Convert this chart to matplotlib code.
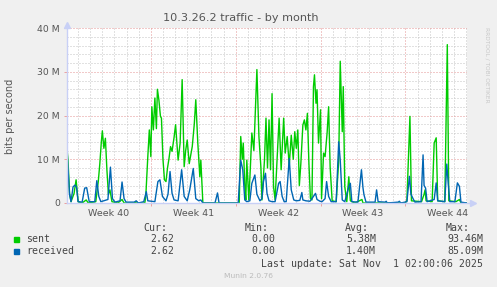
import matplotlib
matplotlib.use("Agg")
import matplotlib.pyplot as plt
from matplotlib.patches import Rectangle

# hours since Mon 29 Sep 2025 00:00, values in Mbit/s
sent_hours = [2, 4, 7, 10, 16, 20, 24, 32, 40, 44, 59, 64, 67, 70, 72, 75, 78, 81, 84, 87,
              91, 103, 111, 115, 135, 139, 143, 156, 158, 162, 165, 168, 170, 173, 176, 179,
              181, 184, 187, 189, 192, 195, 198, 201, 204, 207, 210, 214, 217, 222, 226, 230,
              234, 237, 240, 244, 250, 254, 257, 261, 265, 267, 271, 343, 346, 349, 351, 354,
              356, 358, 362, 365, 368, 372, 378, 382, 386, 388, 393, 396, 399, 402, 405, 408,
              411, 414, 418, 422, 426, 431, 434, 438, 442, 446, 450, 453, 456, 459, 462, 465,
              469, 472, 475, 478, 481, 484, 487, 490, 492, 495, 497, 500, 504, 506, 510, 513,
              517, 520, 523, 527, 535, 540, 543, 547, 549, 552, 556, 560, 563, 572, 586, 588,
              671, 675, 681, 684, 704, 709, 711, 713, 725, 729, 733, 736, 750, 755, 758, 772,
              779, 782, 794]
sent = [12.5, 9.8, 2.2, 0.3, 2.2, 5.3, 0.3, 0, 0.7, 0, 0.3, 5.0, 9.0, 14.0, 16.5, 12.5, 14.8,
        7.6, 2.0, 3.0, 0.3, 0, 0.8, 0, 0, 0.3, 0, 0, 1.5, 10.6, 16.7, 10.6, 22.0, 16.7, 24.0,
        17.0, 26.0, 23.5, 19.8, 19.4, 10.0, 5.3, 4.9, 8.0, 10.2, 12.9, 11.8, 15.0, 17.9, 9.8,
        13.7, 28.2, 8.3, 12.0, 14.4, 9.0, 12.9, 18.0, 23.6, 13.7, 6.0, 9.8, 0, 0, 15.2, 10.0,
        13.7, 4.0, 0.7, 9.8, 0.7, 8.0, 16.0, 12.0, 30.5, 15.2, 8.0, 0.7, 9.8, 19.4, 8.0, 19.0,
        7.6, 25.0, 3.7, 0.7, 9.8, 19.4, 7.6, 19.4, 11.4, 15.2, 8.5, 15.5, 10.0, 16.3, 12.5,
        16.7, 4.0, 9.0, 17.8, 19.0, 16.7, 20.5, 9.0, 1.0, 0.7, 26.6, 29.3, 22.8, 25.9, 13.7,
        21.3, 1.0, 11.4, 10.6, 16.0, 22.0, 8.3, 0.5, 0.3, 9.8, 32.4, 16.3, 26.6, 3.7, 0.3, 6.0,
        0.5, 0, 0.8, 0, 0, 0.5, 19.8, 0.5, 0.3, 2.0, 3.0, 0.5, 0.3, 13.7, 14.9, 0.5, 0.3, 36.2,
        0.5, 0.3, 0.8, 0, 0]

recv_hours = [2, 4, 7, 10, 14, 18, 21, 24, 32, 37, 41, 46, 57, 61, 65, 69, 83, 88, 92, 97,
              107, 111, 115, 119, 135, 139, 143, 154, 159, 162, 176, 182, 186, 191, 198, 202,
              206, 210, 214, 222, 229, 234, 240, 245, 252, 257, 263, 267, 271, 295, 300, 303,
              341, 346, 350, 354, 358, 364, 368, 374, 378, 384, 388, 391, 395, 398, 402, 408,
              414, 421, 424, 428, 432, 436, 442, 446, 451, 456, 463, 467, 469, 475, 483, 487,
              494, 497, 503, 507, 513, 516, 520, 525, 535, 540, 543, 547, 552, 560, 563, 566,
              578, 585, 588, 590, 594, 612, 615, 618, 632, 634, 636, 658, 660, 663, 675, 680,
              683, 688, 691, 703, 707, 709, 712, 715, 729, 733, 736, 750, 754, 757, 760, 770,
              775, 779, 782, 794]
received = [12.5, 8.0, 2.0, 0.3, 3.7, 4.1, 3.5, 0.3, 0.2, 3.4, 3.5, 0.3, 0.3, 5.1, 1.5, 0.3,
            0.8, 8.2, 1.0, 0.2, 0.5, 4.8, 1.0, 0.2, 0.2, 0.5, 0, 0.3, 2.6, 0.5, 0.3, 4.9, 5.3,
            1.5, 0.5, 2.0, 7.2, 2.2, 0.7, 0.5, 7.6, 1.5, 0.5, 3.0, 7.9, 1.0, 0.5, 0.7, 0, 0,
            2.3, 0, 0, 9.8, 7.6, 0.7, 0.3, 0.5, 4.5, 6.4, 2.0, 0.5, 1.0, 4.9, 6.8, 2.2, 0.5,
            0.3, 0.3, 4.5, 4.9, 1.5, 0.3, 0.3, 10.2, 3.0, 0.7, 0.5, 0.6, 2.4, 0.7, 0.5, 0.4,
            1.0, 2.2, 0.8, 0.4, 0.3, 1.0, 4.9, 1.5, 0.3, 0.3, 14.0, 9.8, 0.7, 0.3, 3.7, 4.5,
            0.3, 0.2, 7.6, 3.5, 1.9, 0.2, 0.2, 3.0, 0.3, 0.2, 0.4, 0, 0.2, 0.4, 0, 0.3, 6.1,
            2.0, 0.8, 0.2, 0.3, 11.0, 4.0, 3.4, 0.3, 0.8, 4.6, 0.5, 0.3, 8.9, 4.2, 0.3, 0.3,
            4.6, 3.8, 0.2, 0]

week_labels = ["Week 40", "Week 41", "Week 42", "Week 43", "Week 44"]
y_ticks = [0, 10, 20, 30, 40]
y_labels = ["0", "10 M", "20 M", "30 M", "40 M"]

legend_names = ["sent", "received"]
legend_colors = ["#00cc00", "#0066b3"]
cur_vals = ["2.62", "2.62"]
min_vals = ["0.00", "0.00"]
avg_vals = ["5.38M", "1.40M"]
max_vals = ["93.46M", "85.09M"]

W, H = 497, 287
TXT = "#555555"
MONO = "DejaVu Sans Mono"

fig = plt.figure(figsize=(W / 100, H / 100), dpi=100, facecolor="#f0f0f0")
ax = fig.add_axes([67 / W, 84 / H, 400 / W, 175 / H])
ax.set_facecolor("white")
x0, x1 = 2, 2 + 33 * 24
ax.set_xlim(x0, x1)
ax.set_ylim(0, 40)

# grid: daily / 2M grey dots, weekly / 10M red dots
for d in range(1, 34):
    h = d * 24
    if h >= x1:
        break
    col = "#e49494" if h % 168 == 0 else "#c4c4c4"
    ax.axvline(h, color=col, lw=0.72, ls=(0, (1, 2)), zorder=1)
for v in range(2, 41, 2):
    col = "#e49494" if v % 10 == 0 else "#c4c4c4"
    ax.axhline(v, color=col, lw=0.72, ls=(0, (1, 2)), zorder=1)

ax.plot(sent_hours, sent, color=legend_colors[0], lw=1.0, zorder=3)
ax.plot(recv_hours, received, color=legend_colors[1], lw=1.0, zorder=4)

for s in ax.spines.values():
    s.set_visible(False)

# axis lines with arrow heads
axis_col = "#c8d0f6"
ax.plot([0, 1.015], [0, 0], transform=ax.transAxes, color=axis_col, lw=1, clip_on=False, zorder=5)
ax.plot([1.015], [0], transform=ax.transAxes, marker=">", ms=4, color=axis_col, clip_on=False, zorder=5)
ax.plot([0, 0], [0, 1.02], transform=ax.transAxes, color=axis_col, lw=1, clip_on=False, zorder=5)
ax.plot([0], [1.02], transform=ax.transAxes, marker="^", ms=4, color=axis_col, clip_on=False, zorder=5)

ax.set_xticks([84 + 168 * i for i in range(len(week_labels))], week_labels)
ax.set_xticks([168 * i for i in range(1, 5)], minor=True)
ax.tick_params(axis="x", which="major", length=0, pad=4, labelsize=6.8, labelcolor=TXT)
ax.tick_params(axis="x", which="minor", length=2, color="#eba0a0", width=0.7)
ax.set_yticks(y_ticks, y_labels)
ax.tick_params(axis="y", length=2, width=0.7, color="#eba0a0", pad=3, labelsize=6.7, labelcolor=TXT)

fig.text(241 / W, 1 - 18 / H, "10.3.26.2 traffic - by month", ha="center", va="center",
         fontsize=8.1, color=TXT)
fig.text(10 / W, 1 - 116 / H, "bits per second", rotation=90, ha="center", va="center",
         fontsize=7.0, color=TXT)
fig.text(487 / W, 1 - 65 / H, "RRDTOOL / TOBI OETIKER", rotation=270, ha="center", va="center",
         fontsize=4.2, color="#c8c8c8")

# legend block
def ft(x, y, s, ha="left", **kw):
    fig.text(x / W, 1 - y / H, s, ha=ha, va="center", fontsize=7.1, family=MONO,
             color="#444444", **kw)

ft(167.7, 228.3, "Cur:", "right")
ft(268.7, 228.3, "Min:", "right")
ft(369.3, 228.3, "Avg:", "right")
ft(470, 228.3, "Max:", "right")
for i, name in enumerate(legend_names):
    y = 239.5 + 11.7 * i
    fig.add_artist(Rectangle((14 / W, 1 - (y + 2.5) / H), 5 / W, 5 / H,
                             transform=fig.transFigure, color=legend_colors[i]))
    ft(26.5, y, name)
    ft(174.3, y, cur_vals[i], "right")
    ft(275.3, y, min_vals[i], "right")
    ft(376, y, avg_vals[i], "right")
    ft(483.3, y, max_vals[i], "right")
ft(483.3, 263.7, "Last update: Sat Nov  1 02:00:06 2025", "right")
fig.text(248 / W, 1 - 276 / H, "Munin 2.0.76", ha="center", va="center", fontsize=5.4,
         color="#bbbbbb")

fig.savefig("out.png", dpi=100, facecolor=fig.get_facecolor())
